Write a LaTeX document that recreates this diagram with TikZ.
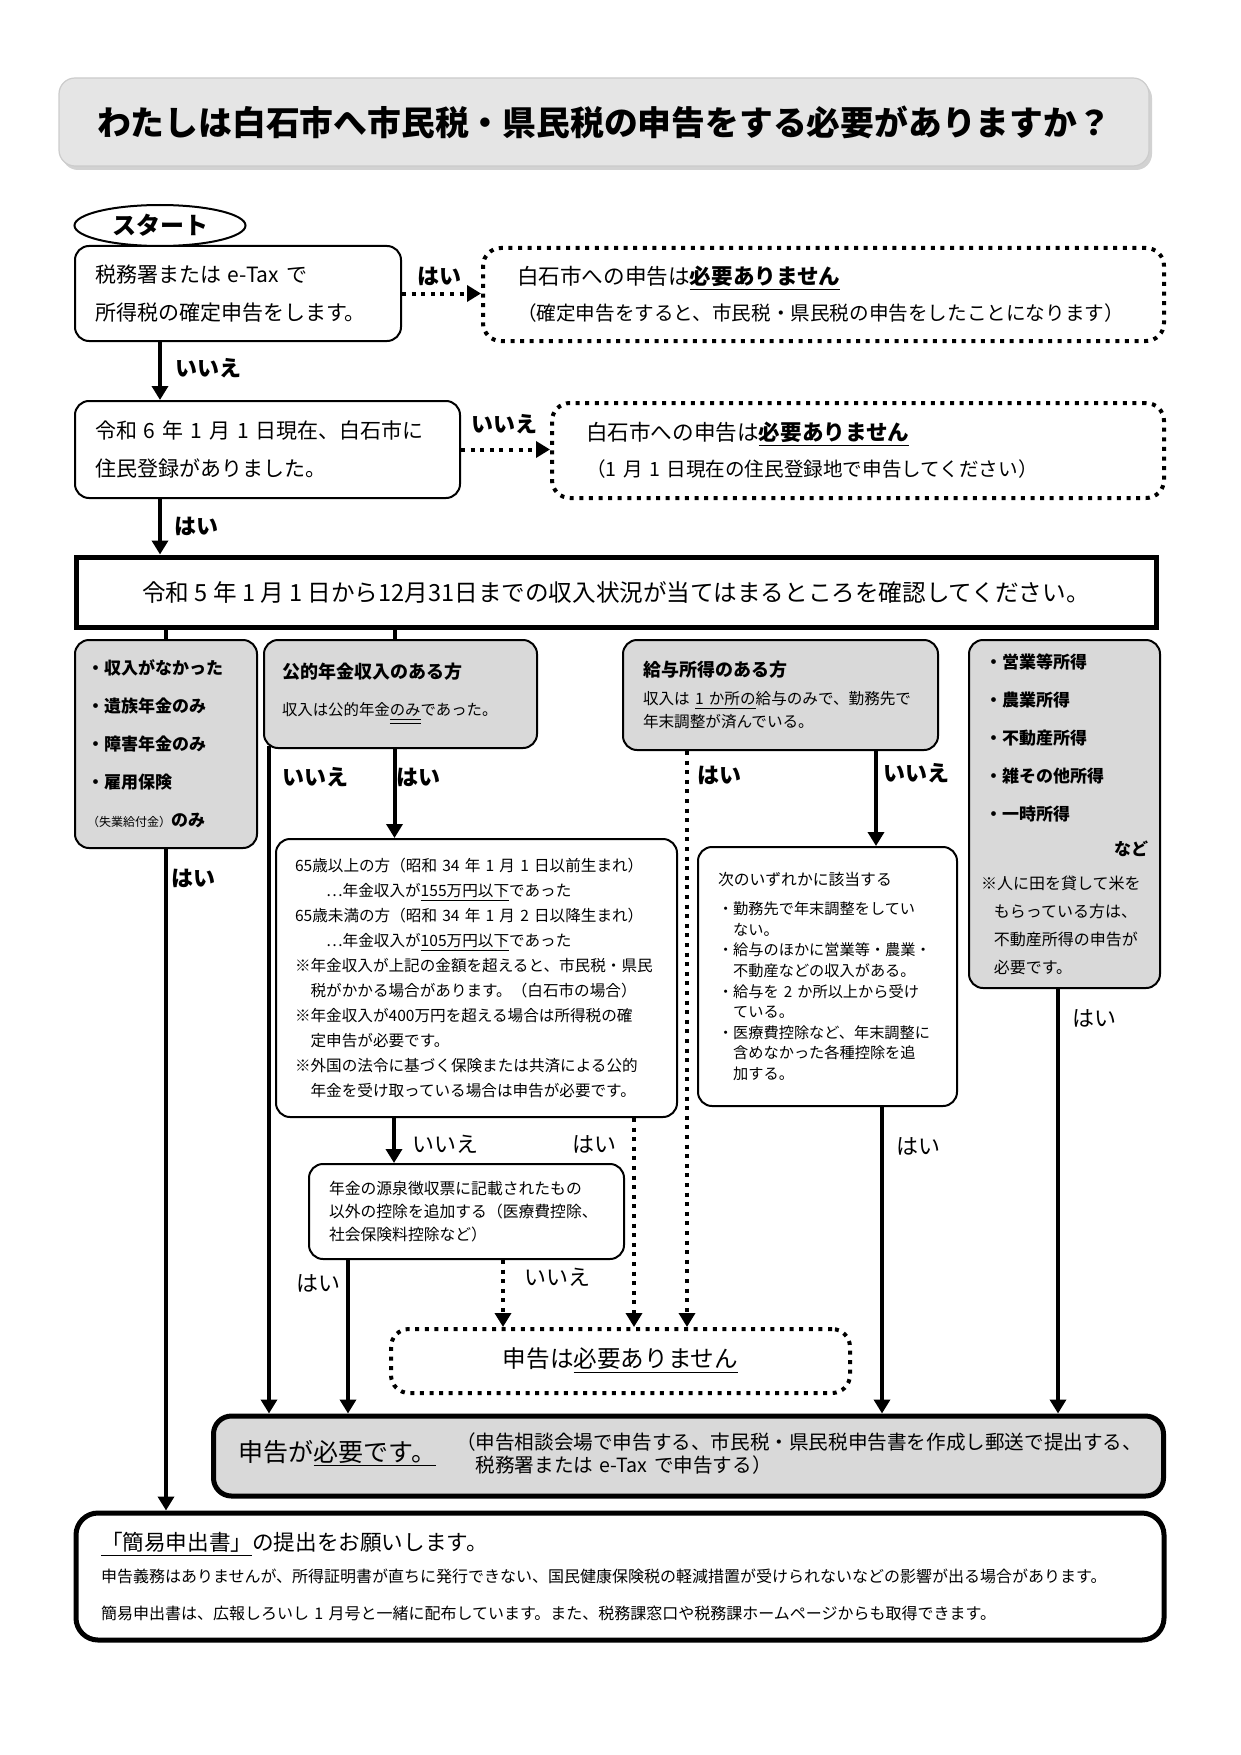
\documentclass[tikz,border=0pt]{standalone}
\usepackage{fontspec}
\setmainfont{Noto Sans CJK JP}
\usetikzlibrary{arrows.meta,shapes.geometric,shadows}

\begin{document}
\begin{tikzpicture}[x=0.5pt,y=-0.5pt,
	box/.style ={draw, rounded corners=7pt, line width=1pt, fill=white, align=left, inner ysep=0pt},
	graybox/.style ={box, fill=gray!30},
	nobox/.style ={draw, rounded corners=9pt, line width=2pt, dash pattern=on 2pt off 2.8pt, align=left, inner ysep=0pt},
	arr/.style ={-{Triangle[width=8pt,length=7pt]}, line width=2pt},
	darr/.style ={arr, dash pattern=on 2pt off 2.8pt},
	lab/.style ={font=\fontsize{11}{13}\selectfont},
	blab/.style ={font=\bfseries\fontsize{11}{13}\selectfont}]
	\useasboundingbox (0,0) rectangle (1241,1755);

	\node[draw=gray!40, fill=gray!20, rounded corners=8pt, line width=0.6pt, drop shadow={shadow xshift=1.5pt, shadow yshift=-2pt, fill=gray!70}, minimum width=545pt, minimum height=44pt, font=\bfseries\fontsize{16.9}{20}\selectfont] (title) at (604,122) {わたしは白石市へ市民税・県民税の申告をする必要がありますか？};

	\node[box, text width=143pt, inner xsep=10pt, minimum height=47.5pt, font=\fontsize{10.5}{19}\selectfont] (tax) at (238,293.5) {税務署または e-Tax で\\所得税の確定申告をします。};
	\node[ellipse, draw, line width=1pt, fill=white, minimum width=85.5pt, minimum height=20.5pt, inner sep=0pt, font=\bfseries\fontsize{12}{14}\selectfont] (start) at (160,225.5) {スタート};
	\node[nobox, text width=306.5pt, inner xsep=17pt, minimum height=46.5pt, font=\fontsize{9.8}{18}\selectfont] (skip1) at (823.5,294.5) {{\fontsize{10.8}{18}\selectfont 白石市への申告は\underline{\textbf{必要ありません}}}\\（確定申告をすると、市民税・県民税の申告をしたことになります）};

	\node[box, text width=172.5pt, inner xsep=10pt, minimum height=48.5pt, font=\fontsize{10.5}{19}\selectfont] (live) at (267.5,449.5) {令和 6 年 1 月 1 日現在、白石市に\\住民登録がありました。};
	\node[nobox, text width=272pt, inner xsep=17pt, minimum height=47.5pt, font=\fontsize{9.8}{18}\selectfont] (skip2) at (858,450.5) {{\fontsize{10.8}{18}\selectfont 白石市への申告は\underline{\textbf{必要ありません}}}\\（1 月 1 日現在の住民登録地で申告してください）};

	\node[draw, line width=2.5pt, minimum width=540pt, minimum height=35pt, font=\fontsize{11.8}{14}\selectfont] (check) at (616,592) {令和 5 年 1 月 1 日から12月31日までの収入状況が当てはまるところを確認してください。};

	\node[graybox, text width=79pt, inner xsep=6pt, minimum height=104pt, font=\bfseries\fontsize{8.5}{19}\selectfont] (none) at (166,744) {・収入がなかった\\・遺族年金のみ\\・障害年金のみ\\・雇用保険\\{\mdseries\fontsize{6}{19}\selectfont （失業給付金）}のみ};
	\node[graybox, text width=118.5pt, inner xsep=9pt, minimum height=54pt, font=\fontsize{7.7}{18.5}\selectfont] (pension) at (400.5,694) {{\bfseries\fontsize{9}{18.5}\selectfont 公的年金収入のある方}\\収入は公的年金\underline{\underline{のみ}}であった。};
	\node[graybox, text width=137.5pt, inner xsep=10pt, minimum height=55pt, font=\fontsize{7.8}{11.5}\selectfont] (salary) at (780.5,695) {{\bfseries\fontsize{9}{11.5}\selectfont 給与所得のある方}\\[2.5pt]収入は \underline{1 か所の}給与のみで、勤務先で\\年末調整が済んでいる。};
	\node[graybox, text width=83.5pt, inner xsep=6pt, minimum height=174pt, font=\fontsize{8}{14}\selectfont] (other) at (1064.5,814) {{\bfseries\fontsize{8.5}{14}\selectfont \hspace*{2pt}・営業等所得\\[5pt]\hspace*{2pt}・農業所得\\[5pt]\hspace*{2pt}・不動産所得\\[5pt]\hspace*{2pt}・雑その他所得\\[5pt]\hspace*{2pt}・一時所得\\[3.5pt]\hspace*{\fill}など\hspace*{6pt}}\\[3pt]※人に田を貸して米を\\\hspace*{0.8em}もらっている方は、\\\hspace*{0.8em}不動産所得の申告が\\\hspace*{0.8em}必要です。};

	\node[box, text width=181.5pt, inner xsep=9.5pt, minimum height=139pt, font=\fontsize{7.8}{12.5}\selectfont] (nenkin) at (476.5,978) {65歳以上の方（昭和 34 年 1 月 1 日以前生まれ）\\\hspace*{2em}…年金収入が\underline{155万円以下}であった\\65歳未満の方（昭和 34 年 1 月 2 日以降生まれ）\\\hspace*{2em}…年金収入が\underline{105万円以下}であった\\※年金収入が上記の金額を超えると、市民税・県民\\\hspace*{1em}税がかかる場合があります。（白石市の場合）\\※年金収入が400万円を超える場合は所得税の確\\\hspace*{1em}定申告が必要です。\\※外国の法令に基づく保険または共済による公的\\\hspace*{1em}年金を受け取っている場合は申告が必要です。};
	\node[box, text width=109.5pt, inner xsep=10pt, minimum height=129.5pt, font=\fontsize{7.6}{10.3}\selectfont] (extra) at (827.5,976.5) {{\fontsize{7.9}{10.3}\selectfont 次のいずれかに該当する}\\[4.2pt]・勤務先で年末調整をしてい\\\hspace*{1em}ない。\\・給与のほかに営業等・農業・\\\hspace*{1em}不動産などの収入がある。\\・給与を 2 か所以上から受け\\\hspace*{1em}ている。\\・医療費控除など、年末調整に\\\hspace*{1em}含めなかった各種控除を追\\\hspace*{1em}加する。};
	\node[box, text width=137.5pt, inner xsep=10pt, minimum height=47.5pt, font=\fontsize{7.9}{11.7}\selectfont] (gensen) at (466.5,1211.5) {年金の源泉徴収票に記載されたもの\\以外の控除を追加する（医療費控除、\\社会保険料控除など）};

	\node[nobox, minimum width=229.5pt, minimum height=32pt, align=center, font=\fontsize{11.8}{14}\selectfont] (noneed) at (620.5,1361) {申告は\underline{必要ありません}};
	\node[graybox, line width=2.5pt, rounded corners=9pt, text width=450pt, inner xsep=12.5pt, minimum height=40pt, font=\fontsize{9.8}{10.5}\selectfont] (need) at (688.5,1456) {{\fontsize{12.5}{14}\selectfont 申告が\underline{必要です。}}\hspace{10pt}\begin{tabular}[c]{@{}l@{}}（申告相談会場で申告する、市民税・県民税申告書を作成し郵送で提出する、\\\hspace*{1em}税務署または e-Tax で申告する）\end{tabular}};
	\node[box, line width=2.5pt, rounded corners=11pt, text width=519pt, inner xsep=12.5pt, minimum height=63.5pt, font=\fontsize{8}{16}\selectfont] (easy) at (620,1576.5) {{\fontsize{10.8}{16}\selectfont \underline{「簡易申出書」}の提出をお願いします。}\\申告義務はありませんが、所得証明書が直ちに発行できない、国民健康保険税の軽減措置が受けられないなどの影響が出る場合があります。\\[2.5pt]簡易申出書は、広報しろいし 1 月号と一緒に配布しています。また、税務課窓口や税務課ホームページからも取得できます。};

	\draw[darr] (tax.east) -- (tax.east -| skip1.west);
	\draw[arr] (start |- tax.south) -- (start |- live.north);
	\draw[darr] (live.east) -- (live.east -| skip2.west);
	\draw[arr] (start |- live.south) -- (start |- check.north);
	\draw[line width=2pt] (none.north |- check.south) -- (none.north);
	\draw[line width=2pt] ([xshift=-3pt]pension.north |- check.south) -- ([xshift=-3pt]pension.north);
	\draw[arr] (none) -- (none |- easy.north);
	\draw[arr] ([xshift=-65.75pt,yshift=1.6pt]pension.south) -- ([xshift=-65.75pt]pension.south |- need.north);
	\draw[arr] ([xshift=-3pt]pension.south) -- ([xshift=-3pt]pension.south |- nenkin.north);
	\draw[darr] ([xshift=-46.75pt]salary.south) -- ([xshift=-46.75pt]salary.south |- noneed.north);
	\draw[arr] ([xshift=47.75pt]salary.south) -- ([xshift=47.75pt]salary.south |- extra.north);
	\draw[arr] ([xshift=27.25pt]extra.south) -- ([xshift=27.25pt]extra.south |- need.north);
	\draw[arr] ([xshift=-3.25pt]other.south) -- ([xshift=-3.25pt]other.south |- need.north);
	\draw[arr] ([xshift=-41.25pt]nenkin.south) -- ([xshift=-41.25pt]nenkin.south |- gensen.north);
	\draw[darr] ([xshift=78.75pt]nenkin.south) -- ([xshift=78.75pt]nenkin.south |- noneed.north);
	\draw[arr] ([xshift=-59.25pt]gensen.south) -- ([xshift=-59.25pt]gensen.south |- need.north);
	\draw[darr] ([xshift=18.25pt]gensen.south) -- ([xshift=18.25pt]gensen.south |- noneed.north);

	\node[blab] (y1) at (439,276) {はい};
	\node[blab] (n1) at (208,368) {いいえ};
	\node[blab] (n2) at (504,424) {いいえ};
	\node[blab] (y2) at (196,526) {はい};
	\node[blab] (yA) at (193,878) {はい};
	\node[blab] (nB) at (315,777) {いいえ};
	\node[blab] (yB) at (418,777) {はい};
	\node[blab] (yC) at (719,775) {はい};
	\node[blab] (nC) at (916,773) {いいえ};
	\node[lab] (nE) at (445,1144) {いいえ};
	\node[lab] (yE) at (594,1144) {はい};
	\node[lab] (yG) at (318,1283) {はい};
	\node[lab] (nG) at (557,1277) {いいえ};
	\node[lab] (yF) at (918,1146) {はい};
	\node[lab] (yD) at (1094,1018) {はい};
\end{tikzpicture}
\end{document}
